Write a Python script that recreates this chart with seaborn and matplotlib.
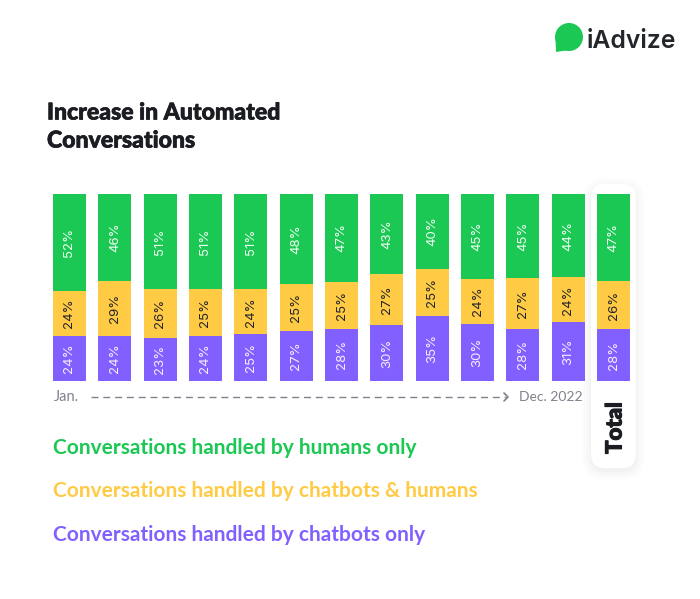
import numpy as np
import pandas as pd
import matplotlib
matplotlib.use('Agg')
import matplotlib.pyplot as plt
import matplotlib.patheffects as pe
from matplotlib.patches import FancyBboxPatch, Circle, Polygon
import seaborn as sns

# one row per bar, Jan. to Dec. 2022 then the total
months = ['Jan', 'Feb', 'Mar', 'Apr', 'May', 'Jun', 'Jul', 'Aug', 'Sep', 'Oct', 'Nov', 'Dec', 'Total']
humans = [52, 46, 51, 51, 51, 48, 47, 43, 40, 45, 45, 44, 47]
both = [24, 29, 26, 25, 24, 25, 25, 27, 25, 24, 27, 24, 26]
bots = [24, 24, 23, 24, 25, 27, 28, 30, 35, 30, 28, 31, 28]

series_names = ['Conversations handled by humans only',
                'Conversations handled by chatbots & humans',
                'Conversations handled by chatbots only']

GREEN = '#1BC853'
YELLOW = '#FFCB45'
PURPLE = '#8260FF'
DARK = '#1B1D22'
GREY = '#80828E'

sns.set_theme(style='white')
plt.rcParams['font.family'] = ['Lato', 'DejaVu Sans']

W, H = 700, 599
fig = plt.figure(figsize=(W / 100, H / 100), dpi=100)

# background layer in pixels for the card, title, logo
bg = fig.add_axes([0, 0, 1, 1])
bg.set_xlim(0, W)
bg.set_ylim(H, 0)
bg.axis('off')

# shadow of the Total card
for grow, a in zip([9, 7, 5, 3, 1], [0.007, 0.008, 0.009, 0.011, 0.014]):
    bg.add_patch(FancyBboxPatch((602, 198), 23, 262,
                                boxstyle=f'round,pad={11 + grow},rounding_size={14 + grow}',
                                fc='#30305a', ec='none', alpha=a))
bg.add_patch(FancyBboxPatch((602, 195), 23, 262, boxstyle='round,pad=11,rounding_size=14',
                            fc='white', ec='none'))

# chart axes, bar centres at 69.5 ... 613.5 px
ax_left, ax_right = 46.8, 636.2
ax = fig.add_axes([ax_left / W, 1 - 381 / H, (ax_right - ax_left) / W, 187 / H])
ax.patch.set_alpha(0)

df = pd.DataFrame({'pos': np.arange(len(months)), 'humans': humans, 'both': both, 'bots': bots})
long_df = df.melt(id_vars='pos', var_name='kind', value_name='share')

sns.histplot(data=long_df, x='pos', weights='share', hue='kind', hue_order=['humans', 'both', 'bots'],
             multiple='fill', discrete=True, shrink=0.73, alpha=1, linewidth=0,
             palette={'humans': GREEN, 'both': YELLOW, 'bots': PURPLE}, legend=False, ax=ax)
ax.set_xlim(-0.5, 12.5)
ax.set_ylim(0, 1)
ax.axis('off')

# value labels, centred in each segment
totals = df[['humans', 'both', 'bots']].sum(axis=1)
for col, start, colour in [('bots', 0, '#F2EEFF'), ('both', df['bots'], '#26262A'),
                           ('humans', df['bots'] + df['both'], '#EFFFF3')]:
    mid = (start + df[col] / 2) / totals
    for i, val in enumerate(df[col]):
        ax.text(i, mid[i], f'{val}%', rotation=90, ha='center', va='center', color=colour,
                fontsize=9.5, family=['Inter', 'DejaVu Sans'])

# title, a thin stroke to get the heavier look
heavy = [pe.withStroke(linewidth=0.5, foreground=DARK)]
bg.text(47, 113, 'Increase in Automated', fontsize=16.6, fontweight='black', color=DARK, va='center',
        path_effects=heavy)
bg.text(47, 141, 'Conversations', fontsize=16.6, fontweight='black', color=DARK, va='center',
        path_effects=heavy)

# time axis
bg.text(54, 397, 'Jan.', fontsize=10.5, color=GREY, va='center')
bg.text(519, 397, 'Dec. 2022', fontsize=10, color=GREY, va='center')
bg.plot([91, 506], [397, 397], color=GREY, lw=1, dashes=(5, 3.5))
bg.plot([504, 508, 504], [393, 397, 401], color=GREY, lw=1.2)
bg.text(615, 428, 'Total', rotation=90, fontsize=16, fontweight='black', color=DARK,
        ha='center', va='center', path_effects=[pe.withStroke(linewidth=0.8, foreground=DARK)])

# series names
for name, colour, y in zip(series_names, [GREEN, YELLOW, PURPLE], [448, 491, 535]):
    bg.text(53, y, name, fontsize=15, fontweight='bold', color=colour, va='center')

# logo
bg.add_patch(Circle((569, 37), 14, fc=GREEN, ec='none'))
bg.add_patch(Polygon([[555.5, 38], [556, 52], [569, 50]], closed=True, fc=GREEN, ec='none'))
bg.text(586.5, 41, 'iAdvize', fontsize=17.8, fontweight='semibold', color='#23262B', va='center',
        family=['Inter', 'DejaVu Sans'])

fig.savefig('out.png', dpi=100, facecolor='white')
